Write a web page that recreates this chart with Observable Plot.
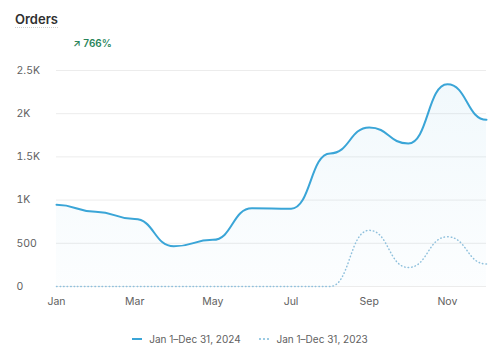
<!DOCTYPE html>
<html>
<head>
<meta charset="utf-8">
<script src="https://cdn.jsdelivr.net/npm/d3@7"></script>
<script src="https://cdn.jsdelivr.net/npm/@observablehq/plot@0.6"></script>
<style>
  html, body { margin: 0; padding: 0; background: #fff; }
  body { width: 500px; height: 357px; position: relative; overflow: hidden; font-family: Inter, "Noto Sans", sans-serif; }
  #title { position: absolute; left: 15px; top: 11px; font-size: 13px; line-height: 16px; font-weight: 600; color: #303030; border-bottom: 1px dotted #cfcfcf; }
  #badge { position: absolute; left: 73px; top: 37px; font-size: 10px; line-height: 12px; font-weight: 600; color: #29845a; }
  #chart { position: absolute; left: 0; top: 56px; }
  #legend { position: absolute; left: 0; width: 500px; top: 330px; text-align: center; font-size: 10px; line-height: 13px; color: #616161; }
  .item { display: inline-flex; align-items: center; margin: 0 8px; }
  .sw { display: inline-block; width: 10px; height: 0; margin-right: 7px; }
</style>
</head>
<body>
<div id="title">Orders</div>
<div id="badge">↗ 766%</div>
<div id="chart"></div>
<div id="legend">
  <span class="item"><span class="sw" style="border-top:2px solid #3aa5d7"></span>Jan 1–Dec 31, 2024</span>
  <span class="item"><span class="sw" style="border-top:2px dotted #9ccbe3"></span>Jan 1–Dec 31, 2023</span>
</div>
<script>
const months = ["Jan","Feb","Mar","Apr","May","Jun","Jul","Aug","Sep","Oct","Nov","Dec"];
const orders2024 = [945, 865, 780, 465, 540, 905, 900, 1540, 1840, 1655, 2340, 1930];
const orders2023 = [0, 0, 0, 0, 0, 0, 0, 0, 650, 220, 575, 260];
const yTicks = [0, 500, 1000, 1500, 2000, 2500];
const xTicks = [0, 2, 4, 6, 8, 10];

const d24 = orders2024.map((v, i) => ({i, v}));
const d23 = orders2023.map((v, i) => ({i, v}));

const defs = () => {
  const ns = "http://www.w3.org/2000/svg";
  const d = document.createElementNS(ns, "defs");
  const g = document.createElementNS(ns, "linearGradient");
  g.setAttribute("id", "areaGrad");
  g.setAttribute("x1", "0"); g.setAttribute("y1", "0");
  g.setAttribute("x2", "0"); g.setAttribute("y2", "1");
  [["0%", 0.07], ["100%", 0.015]].forEach(([o, a]) => {
    const s = document.createElementNS(ns, "stop");
    s.setAttribute("offset", o);
    s.setAttribute("stop-color", "#3aa5d7");
    s.setAttribute("stop-opacity", a);
    g.appendChild(s);
  });
  d.appendChild(g);
  return d;
};

const chart = Plot.plot({
  width: 500,
  height: 255,
  marginLeft: 56,
  marginRight: 14,
  marginTop: 14,
  marginBottom: 25,
  style: {fontFamily: "Inter, 'Noto Sans', sans-serif", fontSize: "10.5px", color: "#616161", background: "transparent"},
  x: {domain: [0, 11], label: null},
  y: {domain: [0, 2500], label: null},
  marks: [
    defs,
    Plot.gridY(yTicks, {stroke: "#ececec", strokeOpacity: 1}),
    Plot.areaY(d24, {x: "i", y: "v", curve: "bump-x", fill: "url(#areaGrad)"}),
    Plot.line(d23, {x: "i", y: "v", curve: "bump-x", stroke: "#8fc0dc", strokeWidth: 1.5, strokeDasharray: "0.5 3", strokeLinecap: "round"}),
    Plot.line(d24, {x: "i", y: "v", curve: "bump-x", stroke: "#3aa5d7", strokeWidth: 2}),
    Plot.axisY(yTicks, {tickSize: 0, tickPadding: 0, textAnchor: "start", dx: -40, fill: "#616161", label: null,
      tickFormat: d => d >= 1000 ? (d / 1000) + "K" : String(d)}),
    Plot.axisX(xTicks, {tickSize: 0, tickPadding: 11, fill: "#616161", label: null, tickFormat: i => months[i]})
  ]
});
document.getElementById("chart").appendChild(chart);
</script>
</body>
</html>
